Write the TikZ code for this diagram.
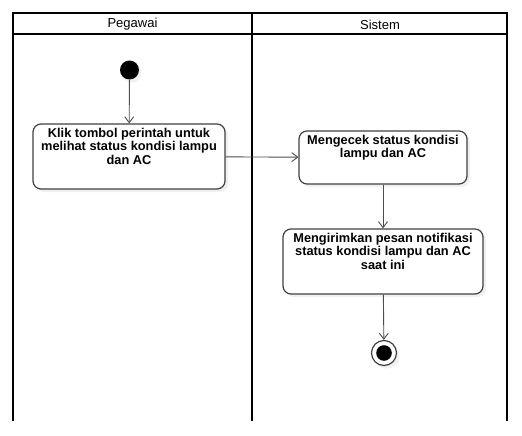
\documentclass[tikz,border=0pt]{standalone}
\usepackage{fontspec}
\setmainfont{Liberation Sans}
\usetikzlibrary{arrows.meta}

\begin{document}
\begin{tikzpicture}[x = 1pt, y = -1pt,
  lane/.style = {line width = 2pt, black},
  act/.style = {draw = black!75, line width = 1.2pt, rounded corners = 8pt, fill = white, inner sep = 4pt, font = \bfseries\fontsize{12.8}{13.4}\selectfont},
  shade/.style = {fill = black!6, rounded corners = 8pt, draw = none},
  flow/.style = {draw = black!70, line width = 0.9pt, -{Straight Barb[length = 6pt, width = 9pt]}}]

\useasboundingbox (0, 0) rectangle (522, 436);

% swimlanes
\draw[lane] (13, 421) -- (13, 13) -- (507, 13) -- (507, 421);
\draw[lane] (13, 34) -- (507, 34);
\draw[lane] (252, 13) -- (252, 421);
\node[font = \fontsize{13}{14}\selectfont] (pegawai) at (132.5, 24.5) {Pegawai};
\node[font = \fontsize{13}{14}\selectfont] (sistem) at (380, 24.5) {Sistem};

% shadows
\fill[black!6] (132, 73) circle (9.5);
\fill[shade] (36, 127) rectangle (228, 192);
\fill[shade] (302, 134) rectangle (470, 187);
\fill[shade] (286, 232) rectangle (486, 297);
\fill[black!6] (387, 356) circle (12.7);

% nodes
\node[circle, fill = black, minimum size = 19pt, inner sep = 0pt] (start) at (129.5, 70) {};
\node[act] (klik) at (129, 156.5) {\parbox[c][57pt][t]{184pt}{\centering Klik tombol perintah untuk\\ melihat status kondisi lampu\\ dan AC}};
\node[act] (cek) at (383, 157.5) {\parbox[c][45pt][t]{160pt}{\centering Mengecek status kondisi\\ lampu dan AC}};
\node[act] (kirim) at (383, 261.5) {\parbox[c][57pt][t]{192pt}{\centering Mengirimkan pesan notifikasi\\ status kondisi lampu dan AC\\ saat ini}};
\node[circle, draw = black!75, line width = 1.2pt, fill = white, minimum size = 25pt, inner sep = 0pt] (stop) at (384, 353) {};
\fill[black] (stop.center) circle (7.8);

% edges
\draw[flow] (start) -- (klik);
\draw[flow] (klik) -- (cek);
\draw[flow] (cek) -- (kirim);
\draw[flow] (kirim) -- (stop);

\end{tikzpicture}
\end{document}
